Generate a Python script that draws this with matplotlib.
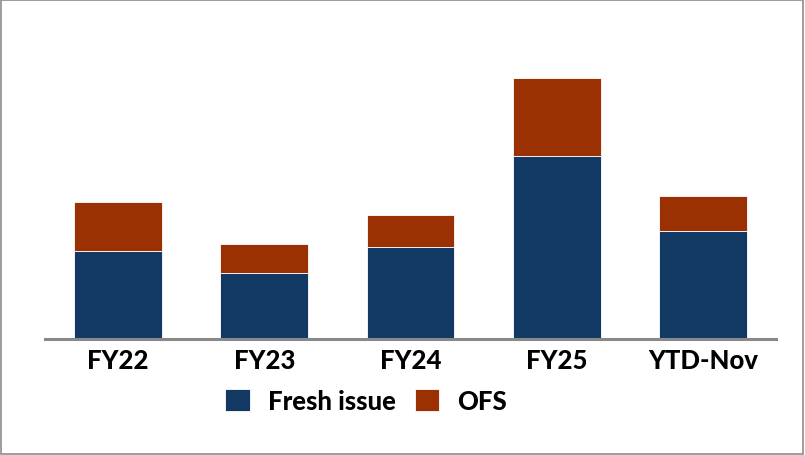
import matplotlib.pyplot as plt
import matplotlib.patches as mpatches
import numpy as np

# data (relative units)
categories = ['FY22', 'FY23', 'FY24', 'FY25', 'YTD-Nov']
fresh_issue = [88, 66, 92, 183, 108]
ofs = [49, 29, 32, 78, 35]

navy = '#113964'
brown = '#9B3003'

plt.rcParams['font.family'] = ['Lato', 'DejaVu Sans']

fig = plt.figure(figsize=(8.05, 4.56), dpi=100)
ax = fig.add_axes([45 / 805, 1 - 339.5 / 456, (776 - 45) / 805, (339.5 - 20) / 456])

x = np.arange(len(categories))
w = 0.6
b1 = ax.bar(x, fresh_issue, w, color=navy, edgecolor='white', linewidth=0.6, label='Fresh issue')
b2 = ax.bar(x, ofs, w, bottom=fresh_issue, color=brown, edgecolor='white', linewidth=0.6, label='OFS')

ax.set_xlim(-0.5, 4.5)
ax.set_ylim(0, 339.5 - 20)
ax.set_xticks(x)
ax.set_xticklabels(categories, fontsize=18.5, fontweight='black')
ax.tick_params(axis='x', length=0, pad=7)
ax.set_yticks([])
for s in ['top', 'right', 'left']:
    ax.spines[s].set_visible(False)
ax.spines['bottom'].set_color('#898989')
ax.spines['bottom'].set_linewidth(2.2)

fig.legend(handles=[b1, b2], labels=['Fresh issue', 'OFS'], loc='center',
           bbox_to_anchor=(366 / 805, 1 - 402 / 456), ncol=2, frameon=False,
           prop={'size': 18.5, 'weight': 'black'}, handlelength=0.95, handleheight=0.95,
           handletextpad=0.7, columnspacing=0.75, borderaxespad=0)

# grey frame around the whole picture
fig.patches.append(mpatches.Rectangle((0.001, 0.002), 0.997, 0.995, transform=fig.transFigure,
                                      fill=False, edgecolor='#8c8c8c', linewidth=1.2))

fig.savefig('out.png', dpi=100)
